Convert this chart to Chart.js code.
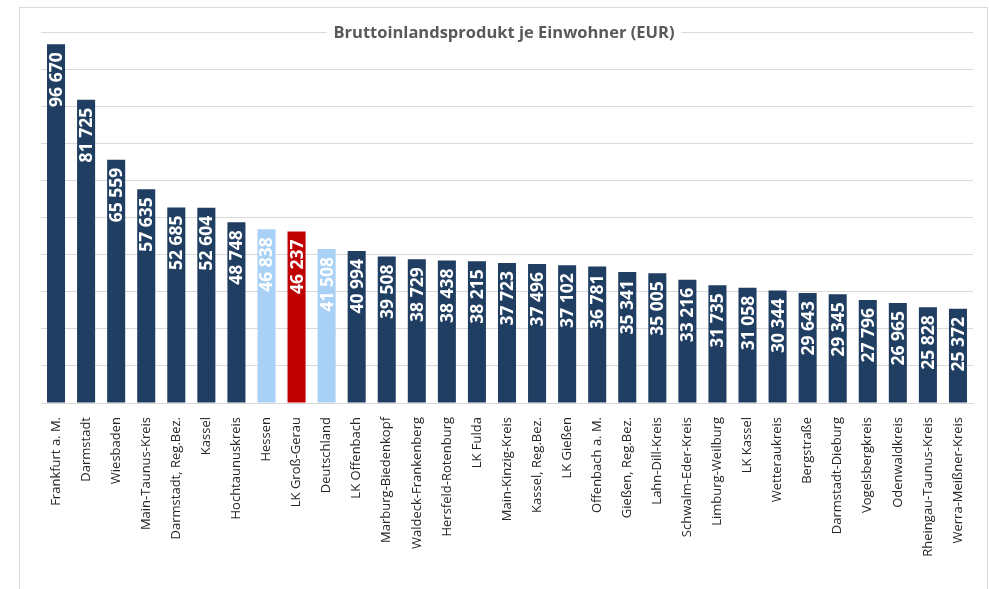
<!DOCTYPE html>
<html>
<head>
<meta charset="utf-8">
<script src="https://cdn.jsdelivr.net/npm/chart.js@4"></script>
<style>
  html, body { margin: 0; padding: 0; background: #fff; }
  #wrap { position: relative; width: 989px; height: 589px; }
</style>
</head>
<body>
<div id="wrap"><canvas id="gdpChart" width="989" height="589"></canvas></div>
<script>
const regions = [
  'Frankfurt a. M.', 'Darmstadt', 'Wiesbaden', 'Main-Taunus-Kreis', 'Darmstadt, Reg.Bez.',
  'Kassel', 'Hochtaunuskreis', 'Hessen', 'LK Groß-Gerau', 'Deutschland', 'LK Offenbach',
  'Marburg-Biedenkopf', 'Waldeck-Frankenberg', 'Hersfeld-Rotenburg', 'LK Fulda',
  'Main-Kinzig-Kreis', 'Kassel, Reg.Bez.', 'LK Gießen', 'Offenbach a. M.', 'Gießen, Reg.Bez.',
  'Lahn-Dill-Kreis', 'Schwalm-Eder-Kreis', 'Limburg-Weilburg', 'LK Kassel', 'Wetteraukreis',
  'Bergstraße', 'Darmstadt-Dieburg', 'Vogelsbergkreis', 'Odenwaldkreis',
  'Rheingau-Taunus-Kreis', 'Werra-Meißner-Kreis'
];
const gdpPerCapita = [
  96670, 81725, 65559, 57635, 52685,
  52604, 48748, 46838, 46237, 41508, 40994,
  39508, 38729, 38438, 38215,
  37723, 37496, 37102, 36781, 35341,
  35005, 33216, 31735, 31058, 30344,
  29643, 29345, 27796, 26965,
  25828, 25372
];
const referenceRegions = ['Hessen', 'Deutschland'];
const highlightRegion = 'LK Groß-Gerau';
const yTicksMax = 100000;
const yTickStep = 10000;

const chartTitle = 'Bruttoinlandsprodukt je Einwohner (EUR)';

function barColor(name) {
  if (name === highlightRegion) return '#c00000';
  if (referenceRegions.includes(name)) return '#a9d0f5';
  return '#1f3e62';
}

// format 96670 -> "96 670"
function fmt(v) {
  return String(v).replace(/\B(?=(\d{3})+(?!\d))/g, ' ');
}

// light frame around the whole chart, like the Excel chart border
const framePlugin = {
  id: 'frame',
  beforeDraw(chart) {
    const ctx = chart.ctx;
    ctx.save();
    ctx.strokeStyle = '#d9d9d9';
    ctx.lineWidth = 1;
    ctx.strokeRect(19.5, 7.5, 968, 620);
    ctx.restore();
  }
};

// value labels written vertically inside the bars
const barLabelPlugin = {
  id: 'barLabels',
  afterDatasetsDraw(chart) {
    const ctx = chart.ctx;
    const meta = chart.getDatasetMeta(0);
    ctx.save();
    ctx.font = 'bold 17.5px "Open Sans"';
    ctx.fillStyle = '#ffffff';
    ctx.textAlign = 'right';
    ctx.textBaseline = 'middle';
    meta.data.forEach((bar, i) => {
      ctx.save();
      ctx.translate(bar.x + 1, bar.y + 8);
      ctx.rotate(-Math.PI / 2);
      ctx.fillText(fmt(gdpPerCapita[i]), 0, 0);
      ctx.restore();
    });
    ctx.restore();
  }
};

// title sits on the top gridline with a white gap behind it
const titlePlugin = {
  id: 'lineTitle',
  afterDraw(chart) {
    const ctx = chart.ctx;
    const y = chart.scales.y.getPixelForValue(yTicksMax);
    const x = 504;
    ctx.save();
    ctx.font = 'bold 16.5px "Open Sans"';
    const w = ctx.measureText(chartTitle).width;
    ctx.fillStyle = '#ffffff';
    ctx.fillRect(x - w / 2 - 7, y - 11, w + 14, 22);
    ctx.fillStyle = '#595959';
    ctx.textAlign = 'center';
    ctx.textBaseline = 'middle';
    ctx.fillText(chartTitle, x, y + 1);
    ctx.restore();
  }
};

const ctx = document.getElementById('gdpChart').getContext('2d');
new Chart(ctx, {
  type: 'bar',
  data: {
    labels: regions,
    datasets: [{
      data: gdpPerCapita,
      backgroundColor: regions.map(barColor),
      borderWidth: 0,
      barPercentage: 0.6,
      categoryPercentage: 1.0
    }]
  },
  options: {
    responsive: false,
    animation: false,
    layout: { padding: { top: 32, left: 41, right: 16, bottom: 0 } },
    plugins: {
      legend: { display: false },
      title: { display: false },
      tooltip: { enabled: false }
    },
    scales: {
      x: {
        grid: { display: false },
        border: { color: '#d9d9d9' },
        ticks: {
          autoSkip: false,
          minRotation: 90,
          maxRotation: 90,
          padding: 6,
          color: '#262626',
          font: { family: '"Open Sans"', size: 13 }
        },
        afterFit(scale) { scale.height = 186; }
      },
      y: {
        min: 0,
        max: yTicksMax,
        grid: { color: '#d9d9d9', drawTicks: false },
        border: { display: false },
        ticks: { display: false, stepSize: yTickStep },
        afterFit(scale) { scale.width = 0; }
      }
    }
  },
  plugins: [framePlugin, barLabelPlugin, titlePlugin]
});
</script>
</body>
</html>
